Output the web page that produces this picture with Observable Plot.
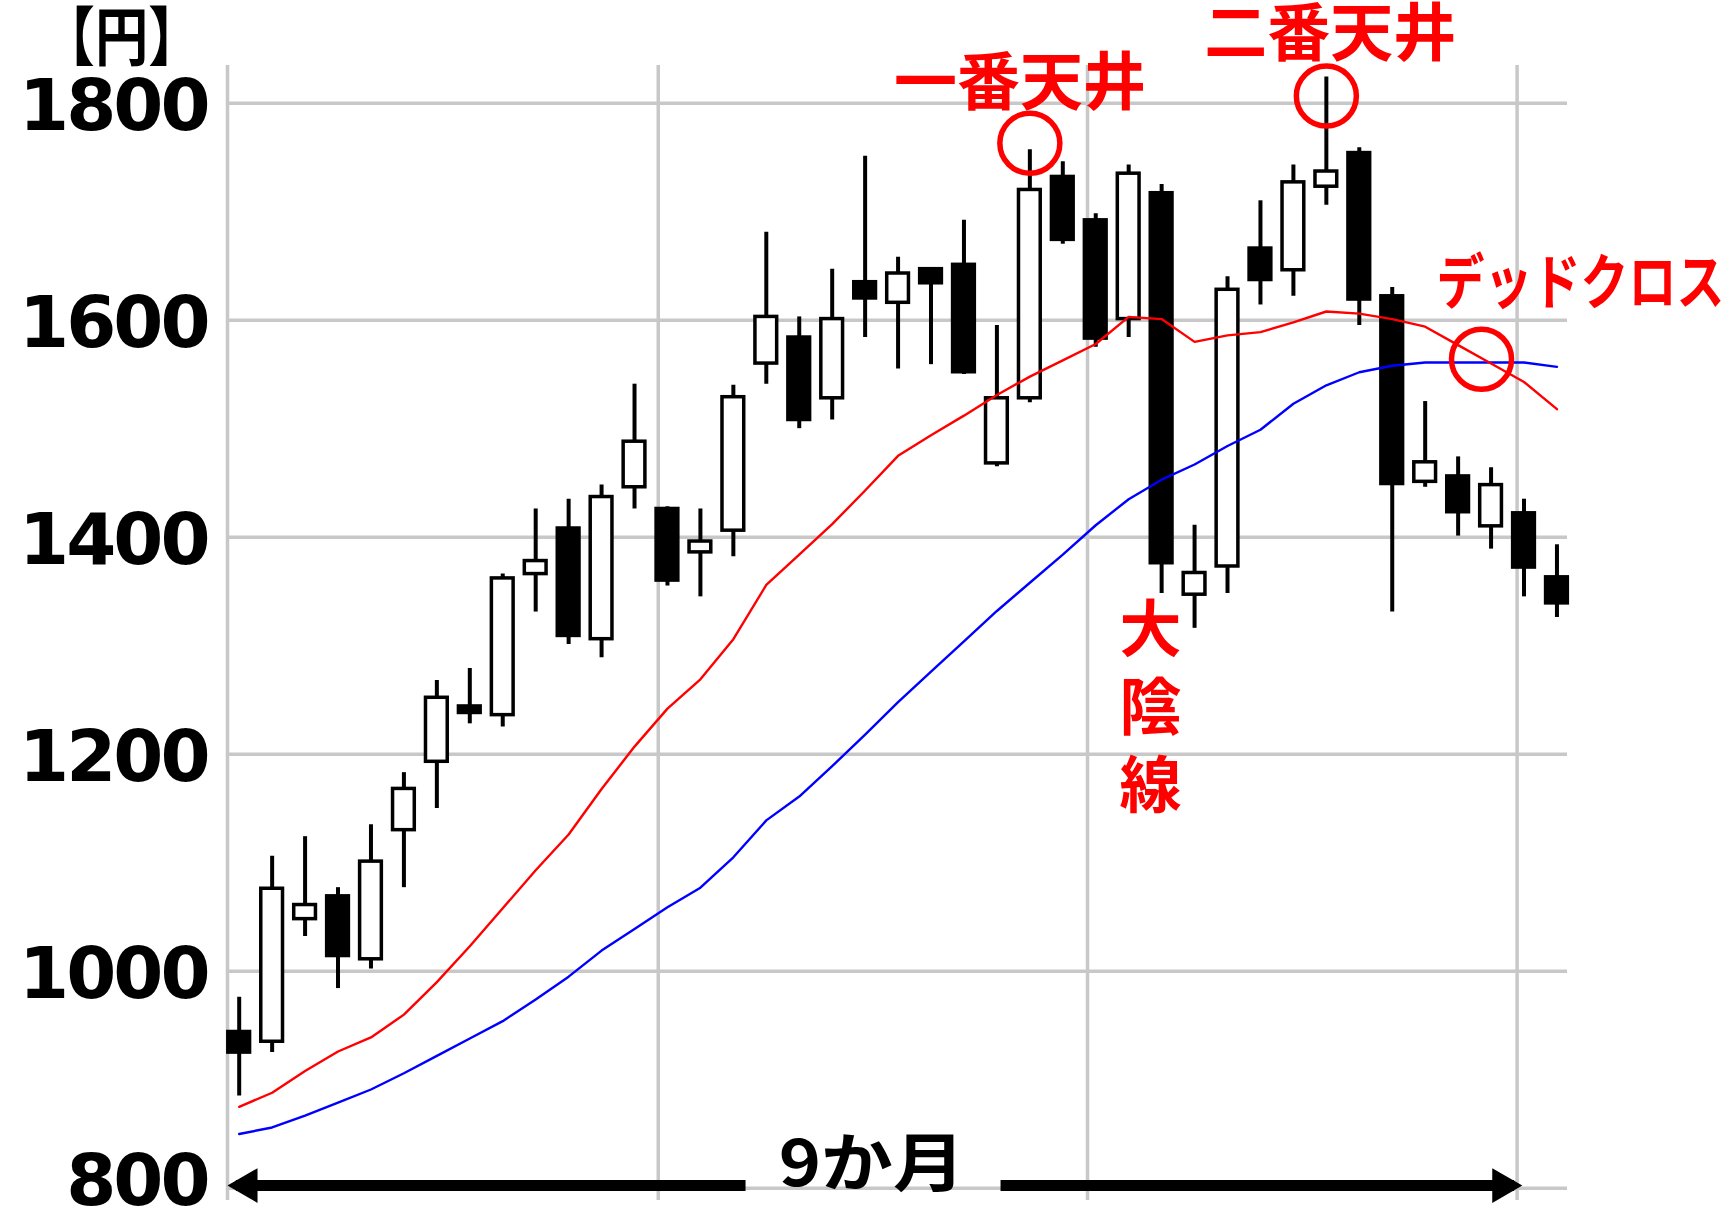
<!DOCTYPE html>
<html><head><meta charset="utf-8">
<script src="https://cdn.jsdelivr.net/npm/d3@7"></script>
<script src="https://cdn.jsdelivr.net/npm/@observablehq/plot@0.6"></script>
<style>
html,body{margin:0;padding:0;background:#fff;overflow:hidden;}
#chart svg{display:block;}
</style></head><body><div id="chart"></div>
<script>
// Weekly candles (index 0..40)
const opens  = [944,935,1048,1069,1011,1130,1193,1244,1236,1366,1408,1306,1446,1426,1386,1406,1560,1584,1528,1635,1616,1647,1651,1468,1528,1732,1692,1601,1717,1347,1373,1666,1646,1723,1754,1622,1451,1456,1410,1422,1363];
const highs  = [976,1106,1124,1077,1135,1183,1268,1279,1366,1426,1435,1448,1541,1428,1426,1540,1681,1603,1647,1751,1658,1648,1692,1595,1757,1746,1698,1743,1725,1411,1640,1710,1743,1824,1759,1630,1525,1474,1464,1435,1393];
const lows   = [885,925,1032,984,1002,1077,1150,1228,1225,1331,1301,1289,1426,1355,1345,1382,1541,1500,1508,1584,1555,1559,1550,1465,1524,1670,1575,1584,1348,1316,1348,1614,1622,1706,1595,1331,1446,1401,1389,1345,1326];
const closes = [925,1076,1061,1014,1101,1168,1252,1238,1362,1378,1309,1437,1488,1360,1396,1529,1603,1508,1601,1620,1643,1634,1552,1528,1720,1674,1583,1735,1376,1367,1628,1637,1727,1737,1619,1449,1469,1423,1448,1372,1339];
// Moving averages
const maShort = [875,888,908,926,939,960,990,1023,1058,1093,1126,1168,1207,1242,1269,1306,1356,1384,1412,1443,1475,1494,1512,1531,1548,1563,1578,1603,1601,1580,1586,1589,1598,1608,1606,1601,1594,1577,1560,1543,1518];
const maLong  = [850,856,867,879,891,906,922,938,954,974,995,1019,1039,1059,1077,1105,1139,1161,1189,1218,1248,1276,1304,1332,1358,1384,1411,1435,1453,1467,1484,1499,1523,1540,1552,1558,1561,1561,1561,1561,1557];

const yTicks = [800,1000,1200,1400,1600,1800];
const monthLines = [-0.355, 12.72, 25.75, 38.79];
const xDomain = [-0.355, 40.32];
const yDomain = [788.7, 1834.7];

// annotations (data coordinates: week index, price)
const peakLabels = [
  {text:"一番天井", x:23.70, y:1818},
  {text:"二番天井", x:33.12, y:1863}
];
const deadCross = [{text:"デッドクロス", x:36.34, y:1633}];
const bigBear = [{text:"大\n陰\n線", x:27.66, y:1245}];
const unitLabel = [{text:"【円】", x:-3.57, y:1859}];
const circles = [{x:24, y:1763}, {x:33, y:1806.5}, {x:37.71, y:1564}];
const spanLabel = [{text:"9か月", x:19.2, y:821}];
const spanSegments = [{x1:-0.1, x2:15.37, y:802.5}, {x1:23.11, x2:38.7, y:802.5}];
const arrowHeads = [{x:0.252, y:802.5, rotate:-90}, {x:38.34, y:802.5, rotate:90}];

const candles = opens.map((o,i)=>({i, open:o, high:highs[i], low:lows[i], close:closes[i], up: closes[i] >= o}));
const maRows = maShort.map((v,i)=>({i, short:v, long:maLong[i]}));

const cjk = "Noto Sans CJK JP, sans-serif";

const chart = Plot.plot({
  width:1724, height:1210,
  marginLeft:227, marginRight:157, marginTop:65, marginBottom:10,
  x:{type:"linear", domain:xDomain, axis:null},
  y:{type:"linear", domain:yDomain, axis:null},
  style:{background:"#fff"},
  marks:[
    Plot.gridY(yTicks, {stroke:"#c8c8c8", strokeOpacity:1, strokeWidth:3.5}),
    Plot.ruleX(monthLines, {stroke:"#c8c8c8", strokeOpacity:1, strokeWidth:3.5}),
    Plot.axisY(yTicks, {anchor:"left", tickSize:0, tickPadding:20, label:null, tickFormat:d=>String(d), fontSize:72, fontWeight:"bold", fontFamily:"DejaVu Sans", fill:"#000", dy:4}),
    Plot.ruleX(candles, {x:"i", y1:"low", y2:"high", stroke:"#000", strokeWidth:4}),
    Plot.rect(candles.filter(d=>d.up), {x1:d=>d.i-0.33, x2:d=>d.i+0.33, y1:"open", y2:"close", fill:"#fff", stroke:"#000", strokeWidth:3.5}),
    Plot.rect(candles.filter(d=>!d.up), {x1:d=>d.i-0.33, x2:d=>d.i+0.33, y1:"open", y2:"close", fill:"#000", stroke:"#000", strokeWidth:3.5}),
    Plot.line(maRows, {x:"i", y:"long", stroke:"#0000ff", strokeWidth:2.4}),
    Plot.line(maRows, {x:"i", y:"short", stroke:"#ff0000", strokeWidth:2.4}),
    Plot.dot(circles, {x:"x", y:"y", r:30, stroke:"#ff0000", strokeWidth:5.5, fill:"none"}),
    Plot.text(peakLabels, {x:"x", y:"y", text:"text", fill:"#ff0000", fontSize:63, fontWeight:"bold", fontFamily:cjk}),
    Plot.text(deadCross, {x:"x", y:"y", text:"text", textAnchor:"start", fill:"#ff0000", fontSize:60, fontWeight:"bold", fontFamily:cjk}),
    Plot.text(bigBear, {x:"x", y:"y", text:"text", lineHeight:1.26, fill:"#ff0000", fontSize:62, fontWeight:"bold", fontFamily:cjk}),
    Plot.text(unitLabel, {x:"x", y:"y", text:"text", fill:"#000", fontSize:64, fontWeight:"bold", fontFamily:cjk}),
    Plot.link(spanSegments, {x1:"x1", x2:"x2", y1:"y", y2:"y", stroke:"#000", strokeWidth:11, strokeLinecap:"butt"}),
    Plot.dot(arrowHeads, {x:"x", y:"y", symbol:"triangle", r:12.9, fill:"#000", stroke:"none", rotate:"rotate"}),
    Plot.text(spanLabel, {x:"x", y:"y", text:"text", fill:"#000", fontSize:64, fontWeight:"bold", fontFamily:cjk})
  ]
});
document.getElementById("chart").appendChild(chart);

const svg = d3.select(chart);
svg.selectAll('g[aria-label="y-axis tick label"] text').attr("letter-spacing", "-3");
svg.selectAll('g[aria-label="y-axis tick label"] text').filter(function(){ return this.textContent === "800"; })
  .each(function(){ this.setAttribute("transform", (this.getAttribute("transform")||"") + " translate(0,-10)"); });
svg.selectAll("text").filter(function(){ return this.textContent === "デッドクロス"; })
  .attr("textLength", 288).attr("lengthAdjust", "spacingAndGlyphs");
svg.selectAll("text").filter(function(){ return this.textContent === "9か月"; })
  .attr("textLength", 186).attr("lengthAdjust", "spacingAndGlyphs");
svg.selectAll("text").filter(function(){ return this.textContent === "【円】"; })
  .attr("textLength", 160).attr("lengthAdjust", "spacingAndGlyphs");
</script>
</body></html>
